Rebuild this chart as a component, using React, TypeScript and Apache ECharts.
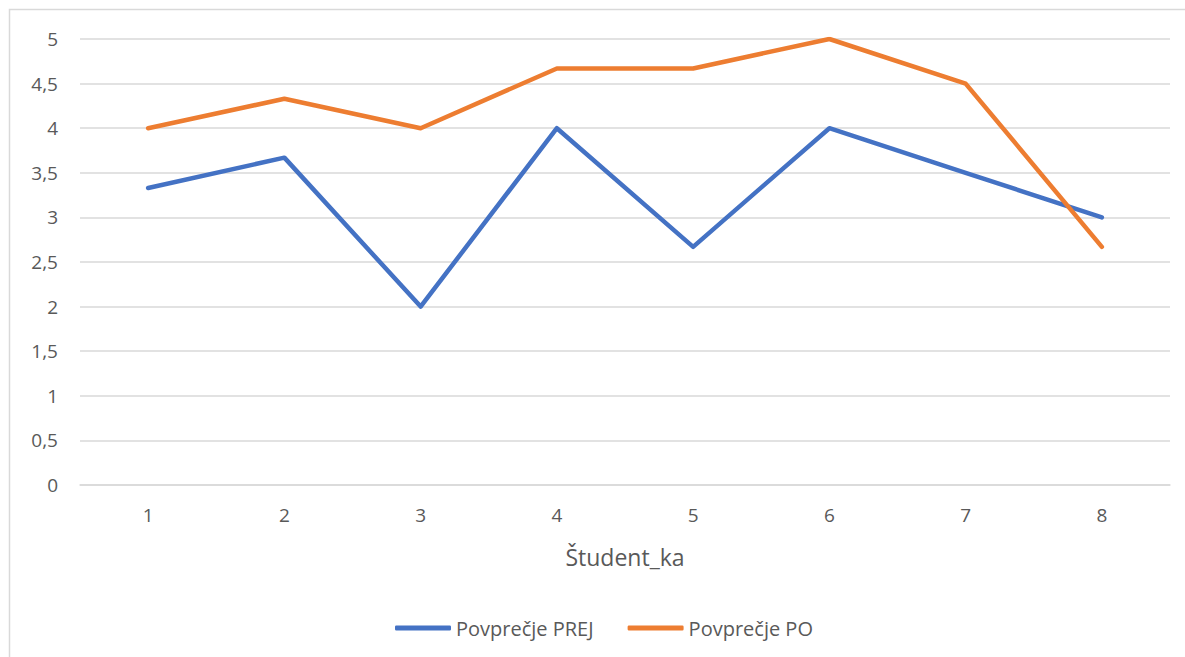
import React, { useEffect, useRef } from "react";
import * as echarts from "echarts";

const categories = ["1", "2", "3", "4", "5", "6", "7", "8"];
const prejValues = [3.33, 3.67, 2, 4, 2.67, 4, 3.5, 3];
const poValues = [4, 4.33, 4, 4.67, 4.67, 5, 4.5, 2.67];
const seriesNames = ["Povprečje PREJ", "Povprečje PO"];
const axisTitle = "Študent_ka";

const FONT = "'Open Sans', 'Noto Sans', sans-serif";

export default function App() {
  const ref = useRef<HTMLDivElement>(null);
  useEffect(() => {
    if (!ref.current) return;
    const chart = echarts.init(ref.current, null, { renderer: "svg" });
    chart.setOption({
      animation: false,
      backgroundColor: "#ffffff",
      graphic: [
        {
          type: "rect",
          shape: { x: 9.5, y: 9.5, width: 1300, height: 800 },
          style: { fill: "none", stroke: "#d9d9d9", lineWidth: 1.5 },
          silent: true,
        },
      ],
      grid: { left: 80, right: 15, top: 39, bottom: 172 },
      legend: {
        left: 390,
        top: 613,
        icon: "roundRect",
        itemWidth: 56,
        itemHeight: 5,
        itemGap: 34,
        textStyle: { color: "#595959", fontSize: 20, fontFamily: FONT },
        data: seriesNames,
      },
      xAxis: {
        type: "category",
        data: categories,
        boundaryGap: true,
        axisTick: { show: false },
        axisLine: { lineStyle: { color: "#d9d9d9", width: 1.5 } },
        axisLabel: { color: "#595959", fontSize: 19, fontFamily: FONT, margin: 20 },
        name: axisTitle,
        nameLocation: "middle",
        nameGap: 60,
        nameTextStyle: { color: "#595959", fontSize: 23, fontFamily: FONT },
      },
      yAxis: {
        type: "value",
        min: 0,
        max: 5,
        interval: 0.5,
        axisLine: { show: false },
        axisTick: { show: false },
        splitLine: { lineStyle: { color: "#d9d9d9", width: 1.5 } },
        axisLabel: {
          color: "#595959",
          fontSize: 19,
          fontFamily: FONT,
          margin: 22,
          formatter: (v: number) => String(v).replace(".", ","),
        },
      },
      series: [
        {
          name: seriesNames[0],
          type: "line",
          data: prejValues,
          symbol: "none",
          lineStyle: { color: "#4472C4", width: 4.5, cap: "round", join: "round" },
          itemStyle: { color: "#4472C4" },
        },
        {
          name: seriesNames[1],
          type: "line",
          data: poValues,
          symbol: "none",
          lineStyle: { color: "#ED7D31", width: 4.5, cap: "round", join: "round" },
          itemStyle: { color: "#ED7D31" },
        },
      ],
    });
    return () => chart.dispose();
  }, []);
  return (
    <div
      ref={ref}
      style={{ position: "fixed", left: 0, top: 0, width: 1185, height: 657 }}
    />
  );
}
